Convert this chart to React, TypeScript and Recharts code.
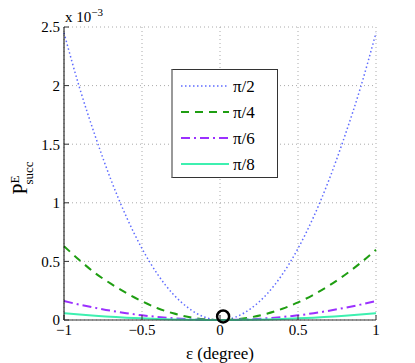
import React from 'react';
import { ComposedChart, Line, XAxis, YAxis, CartesianGrid, ReferenceDot } from 'recharts';

// error angle in degrees
const eps = [-1, -0.9, -0.8, -0.7, -0.6, -0.5, -0.4, -0.3, -0.2, -0.1, 0, 0.1, 0.2, 0.3, 0.4, 0.5, 0.6, 0.7, 0.8, 0.9, 1];

// P_succ^E, in units of 1e-3
const piOver2 = [2.45, 1.98, 1.57, 1.2, 0.88, 0.61, 0.39, 0.22, 0.1, 0.025, 0, 0.025, 0.1, 0.22, 0.39, 0.61, 0.88, 1.2, 1.57, 1.98, 2.45];
const piOver4 = [0.63, 0.51, 0.4, 0.31, 0.23, 0.16, 0.1, 0.057, 0.025, 0.006, 0, 0.006, 0.024, 0.054, 0.096, 0.15, 0.216, 0.294, 0.384, 0.486, 0.6];
const piOver6 = [0.162, 0.131, 0.104, 0.079, 0.058, 0.04, 0.026, 0.015, 0.006, 0.002, 0, 0.002, 0.006, 0.015, 0.026, 0.04, 0.058, 0.079, 0.104, 0.131, 0.162];
const piOver8 = [0.057, 0.046, 0.036, 0.028, 0.02, 0.014, 0.009, 0.005, 0.002, 0.001, 0, 0.001, 0.002, 0.005, 0.009, 0.014, 0.02, 0.028, 0.036, 0.046, 0.057];

const marker = { eps: 0.02, p: 0.03 };

const xTicks = [-1, -0.5, 0, 0.5, 1];
const yTicks = [0, 0.5, 1, 1.5, 2, 2.5];

const series = [
  { key: 'a', name: 'π/2', color: '#5f6cff', dash: '1.5 2.5', width: 1.5 },
  { key: 'b', name: 'π/4', color: '#1f9e12', dash: '8 6', width: 2 },
  { key: 'c', name: 'π/6', color: '#9b30ff', dash: '9 4 2 4', width: 2 },
  { key: 'd', name: 'π/8', color: '#3df0b0', dash: undefined, width: 2 },
];

const data = eps.map((x, i) => ({ x, a: piOver2[i], b: piOver4[i], c: piOver6[i], d: piOver8[i] }));

const font = '"Liberation Serif", "Times New Roman", "DejaVu Serif", serif';
const minus = (v: number) => String(v).replace('-', '−');

const LegendBox = () => (
  <div style={{ position: 'absolute', left: 171, top: 69, width: 104, height: 107, background: '#fff', border: '1px solid #333', borderLeft: '2px solid #999' }}>
    <svg width={104} height={107} style={{ display: 'block' }}>
      {series.map((s, i) => {
        const y = 16 + i * 26;
        return (
          <g key={s.key}>
            <line x1={8} x2={56} y1={y} y2={y} stroke={s.color} strokeWidth={s.width} strokeDasharray={s.dash} />
            <text x={60} y={y + 6} fontSize={17} fontFamily={font} fill="#000">{s.name}</text>
          </g>
        );
      })}
    </svg>
  </div>
);

export default function App() {
  return (
    <div style={{ position: 'absolute', left: 0, top: 0, width: 415, height: 363, background: '#fff' }}>
      <ComposedChart width={415} height={363} data={data} margin={{ top: 27, right: 39, left: 24, bottom: 0 }}>
        <CartesianGrid stroke="#aaa" strokeDasharray="1 3" />
        <XAxis
          dataKey="x"
          type="number"
          domain={[-1, 1]}
          ticks={xTicks}
          tickFormatter={minus}
          height={43}
          axisLine={{ stroke: '#333' }}
          tickLine={{ stroke: '#333' }}
          tickSize={-5}
          tickMargin={9}
          tick={{ fontSize: 15, fontFamily: font, fill: '#000' }}
          label={{ value: 'ε (degree)', position: 'insideBottom', offset: 4, style: { fontSize: 17, fontFamily: font, fill: '#000' } }}
        />
        <XAxis xAxisId="top" orientation="top" type="number" domain={[-1, 1]} ticks={xTicks} height={0} tick={false} tickLine={false} axisLine={{ stroke: '#888', strokeWidth: 2 }} />
        <YAxis
          type="number"
          domain={[0, 2.5]}
          ticks={yTicks}
          width={40}
          axisLine={{ stroke: '#000' }}
          tickLine={{ stroke: '#333' }}
          tickSize={-5}
          tickMargin={9}
          tick={{ fontSize: 15, fontFamily: font, fill: '#000' }}
          label={{
            content: () => (
              <text transform="translate(27,178) rotate(-90)" fontFamily={font} fill="#000" textAnchor="middle">
                <tspan fontSize={20}>P</tspan>
                <tspan fontSize={13} dy={-8}>E</tspan>
                <tspan fontSize={13} dx={-9} dy={14}>succ</tspan>
              </text>
            ),
          }}
        />
        <YAxis yAxisId="right" orientation="right" type="number" domain={[0, 2.5]} ticks={yTicks} width={0} tick={false} tickLine={false} axisLine={{ stroke: '#888', strokeWidth: 2 }} />
        {series.map(s => (
          <Line
            key={s.key}
            dataKey={s.key}
            name={s.name}
            type="monotone"
            stroke={s.color}
            strokeWidth={s.width}
            strokeDasharray={s.dash}
            dot={false}
            isAnimationActive={false}
          />
        ))}
        <ReferenceDot x={marker.eps} y={marker.p} r={6} fill="none" stroke="#000" strokeWidth={2.5} />
      </ComposedChart>
      <LegendBox />
      <div style={{ position: 'absolute', left: 65, top: 6, fontFamily: font, fontSize: 15, color: '#000', whiteSpace: 'nowrap' }}>
        x 10<sup style={{ fontSize: 11 }}>−3</sup>
      </div>
    </div>
  );
}
